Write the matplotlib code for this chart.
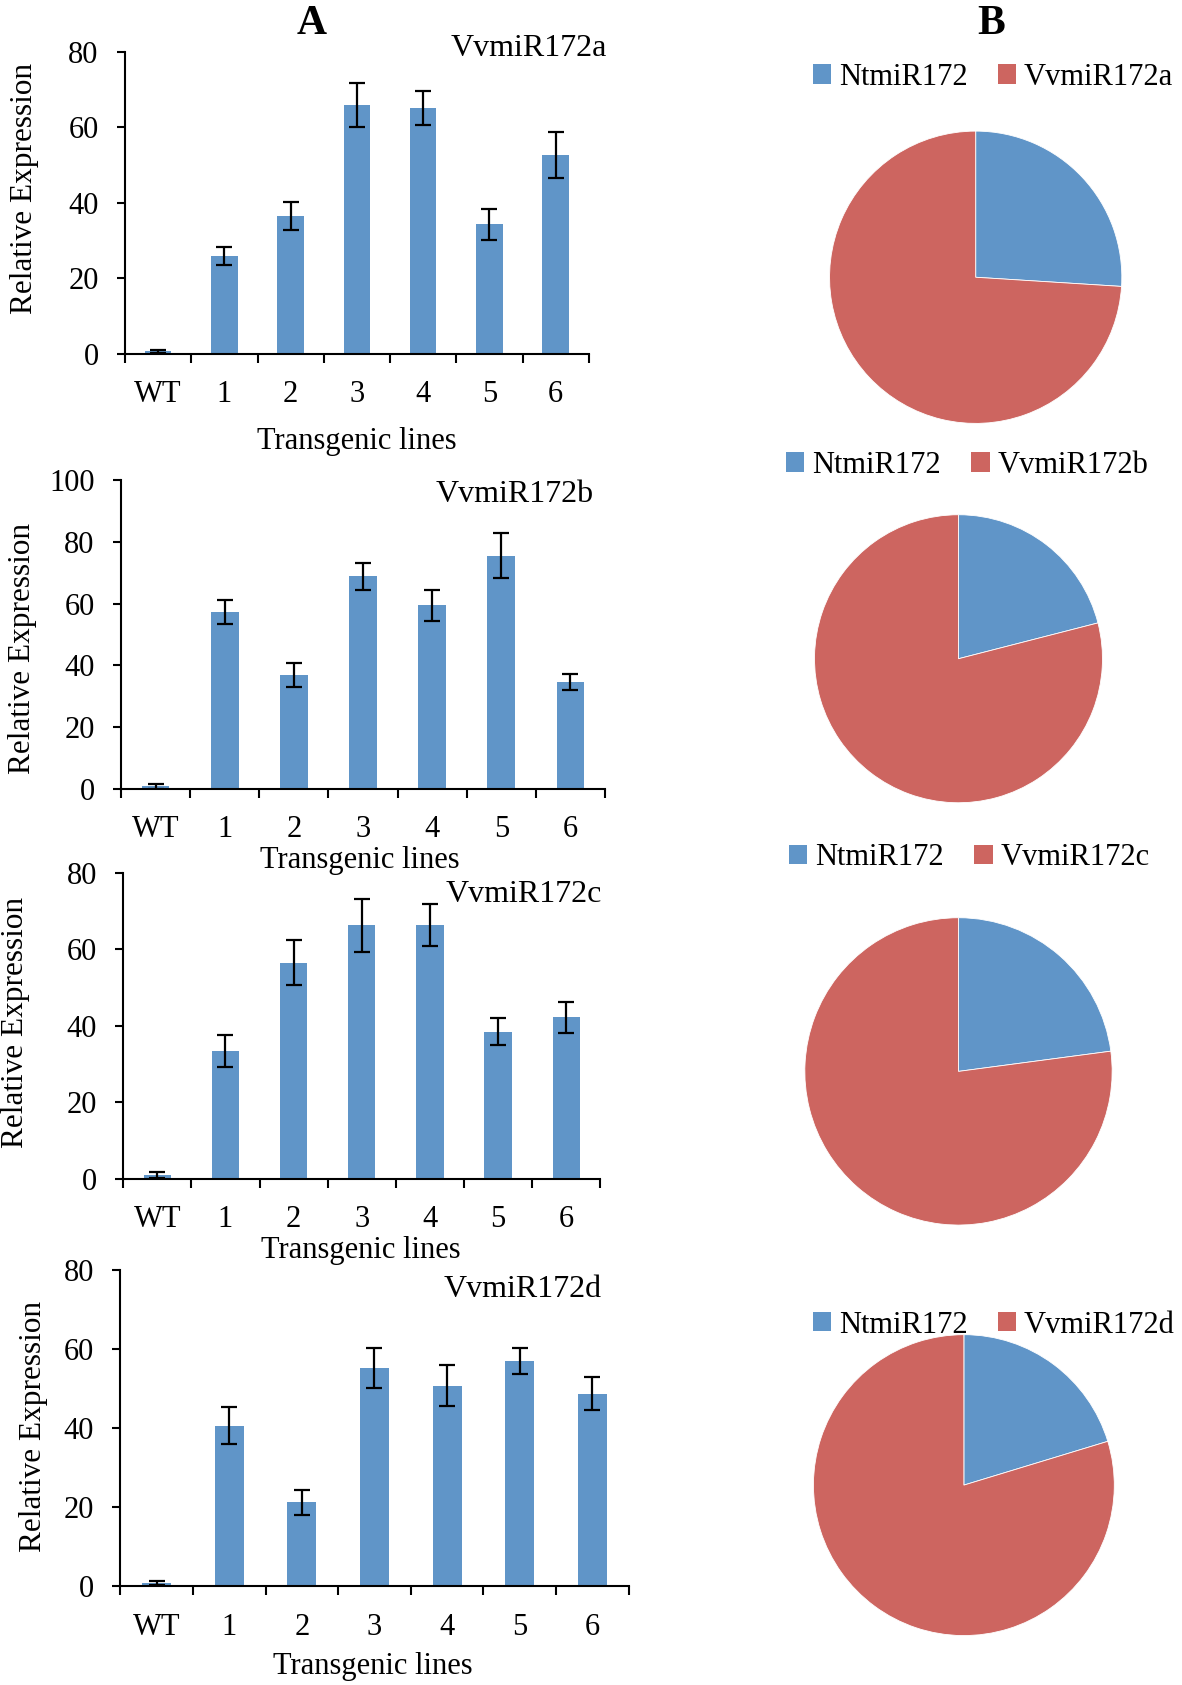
import matplotlib
matplotlib.use("Agg")
import matplotlib.pyplot as plt
from matplotlib.patches import Patch
from matplotlib.ticker import FixedLocator

plt.rcParams['font.family'] = ['Liberation Serif', 'DejaVu Serif']

categories = ["WT", "1", "2", "3", "4", "5", "6"]

genes = ["VvmiR172a", "VvmiR172b", "VvmiR172c", "VvmiR172d"]
expr_a = [0.8, 25.9, 36.5, 65.9, 65.1, 34.3, 52.6]
err_a = [0.4, 2.4, 3.8, 5.9, 4.5, 4.2, 6.1]
expr_b = [0.8, 57.3, 36.9, 68.9, 59.5, 75.6, 34.6]
err_b = [0.9, 3.8, 3.8, 4.4, 5.1, 7.4, 2.7]
expr_c = [0.9, 33.5, 56.5, 66.2, 66.4, 38.4, 42.2]
err_c = [0.8, 4.2, 5.8, 7.0, 5.5, 3.5, 4.1]
expr_d = [0.8, 40.6, 21.2, 55.2, 50.8, 57.0, 48.7]
err_d = [0.4, 4.7, 3.1, 5.0, 5.2, 3.2, 4.2]
ymax = [80, 100, 80, 80]
yticks = [[0, 20, 40, 60, 80], [0, 20, 40, 60, 80, 100],
          [0, 20, 40, 60, 80], [0, 20, 40, 60, 80]]

pie_labels = ["NtmiR172", "VvmiR172"]
share_nt = [0.26, 0.21, 0.229, 0.203]

BLUE = "#6095C8"
RED = "#CD6560"

W, H = 1100.0, 1568.0
fig = plt.figure(figsize=(11.82, 16.85), dpi=100)


def rect(l, t, r, b):
    return [l / W, 1 - b / H, (r - l) / W, (b - t) / H]


# bar axes geometry (in shrunk reference pixels): left, top(ymax), right, bottom(0)
bar_geo = [(116.3, 48.1, 548, 329.5), (112.7, 447, 563, 734),
           (114.7, 812, 558.6, 1097), (112, 1182, 585, 1476)]
ylabel_pos = [(23, 175), (21, 603), (14, 951), (31, 1327)]
xlabel_pos = [(332, 411), (335, 801), (336, 1164), (347, 1551)]
gene_pos = [(565, 45), (553, 460), (560, 832), (560, 1200)]
series = [(expr_a, err_a), (expr_b, err_b), (expr_c, err_c), (expr_d, err_d)]

FS = 22

for i in range(4):
    l, t, r, b = bar_geo[i]
    ax = fig.add_axes(rect(l, t, r, b))
    vals, errs = series[i]
    x = list(range(len(categories)))
    ax.bar(x, vals, width=0.4, color=BLUE, zorder=2)
    ax.errorbar(x, vals, yerr=errs, fmt='none', ecolor='black', elinewidth=1.6,
                capsize=5.5, capthick=1.6, zorder=3)
    ax.set_xlim(-0.5, len(categories) - 0.5)
    ax.set_ylim(0, ymax[i])
    ax.set_yticks(yticks[i])
    ax.spines['top'].set_visible(False)
    ax.spines['right'].set_visible(False)
    ax.spines['left'].set_linewidth(1.5)
    ax.spines['bottom'].set_linewidth(1.5)
    ax.xaxis.set_major_locator(FixedLocator([k - 0.5 for k in range(len(categories) + 1)]))
    ax.xaxis.set_major_formatter(plt.NullFormatter())
    ax.xaxis.set_minor_locator(FixedLocator(x))
    ax.set_xticklabels(categories, minor=True)
    ax.tick_params(axis='x', which='major', direction='out', length=6.7, width=1.5)
    ax.tick_params(axis='x', which='minor', length=0, pad=19, labelsize=FS)
    ax.tick_params(axis='y', direction='out', length=6, width=1.5, labelsize=FS, pad=13)
    ax.set_facecolor('none')
    yx, yy = ylabel_pos[i]
    fig.text(yx / W, 1 - yy / H, "Relative Expression", rotation=90,
             ha='center', va='center', fontsize=22.5)
    xl, yl = xlabel_pos[i]
    fig.text(xl / W, 1 - yl / H, "Transgenic lines", ha='center', va='center', fontsize=FS)
    gx, gy = gene_pos[i]
    fig.text(gx / W, 1 - gy / H, genes[i], ha='right', va='center', fontsize=23)

fig.text(290 / W, 1 - 22 / H, "A", ha='center', va='center', fontsize=30, fontweight='bold')
fig.text(922 / W, 1 - 22 / H, "B", ha='center', va='center', fontsize=30, fontweight='bold')

# pies: center x, center y, radius (shrunk px)
pie_geo = [(908, 258, 136), (892, 613, 134), (892, 997, 143), (897, 1382, 140)]
legend_pos = [(924, 72), (900, 433), (902, 798), (925, 1233)]

for i in range(4):
    cx, cy, rr = pie_geo[i]
    ax = fig.add_axes(rect(cx - rr, cy - rr, cx + rr, cy + rr))
    vals = [share_nt[i], 1 - share_nt[i]]
    ax.pie(vals, colors=[BLUE, RED], startangle=90, counterclock=False,
           wedgeprops=dict(edgecolor='white', linewidth=0.6))
    ax.set_xlim(-1, 1)
    ax.set_ylim(-1, 1)
    ax.set_aspect('auto')
    ax.axis('off')
    lx, ly = legend_pos[i]
    handles = [Patch(facecolor=BLUE, label=pie_labels[0]),
               Patch(facecolor=RED, label=genes[i])]
    fig.legend(handles=handles, loc='center', bbox_to_anchor=(lx / W, 1 - ly / H),
               ncol=2, frameon=False, fontsize=22, handlelength=0.6, handleheight=0.6,
               handletextpad=0.25, columnspacing=1.0, borderpad=0.2, borderaxespad=0)

fig.savefig("out.png", dpi=100)
